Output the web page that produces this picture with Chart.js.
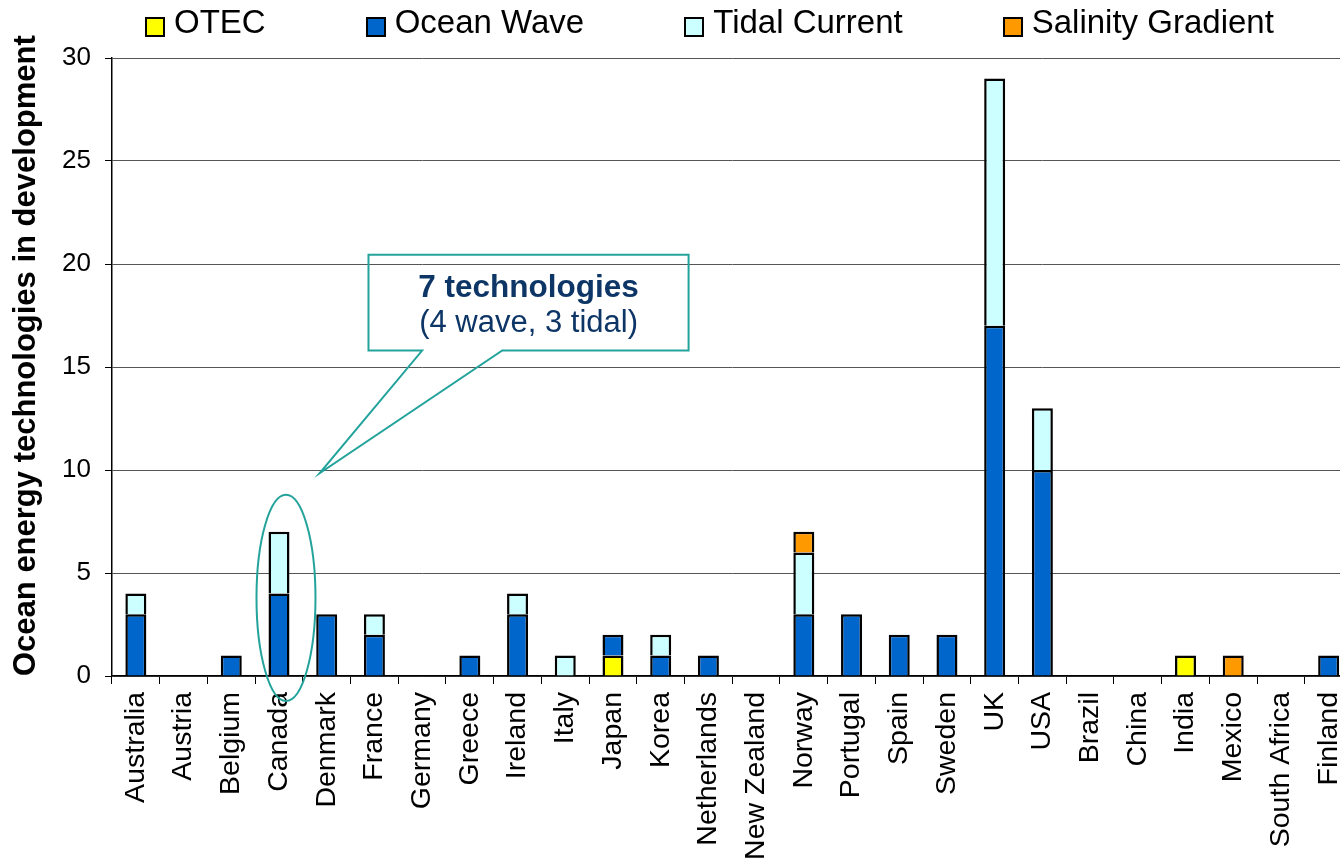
<!DOCTYPE html>
<html lang="en">
<head>
<meta charset="UTF-8">
<title>Ocean energy technologies in development</title>
<script src="https://cdn.jsdelivr.net/npm/chart.js"></script>
<style>
    body {
        margin: 0;
        background: #fff;
        overflow: hidden;
        font-family: "Liberation Sans", Arial, sans-serif;
    }
    .wrap {
        position: relative;
        width: 1371px;
        height: 862px;
    }
    .legend {
        position: absolute;
        top: 3px;
        left: 145px;
        display: flex;
        gap: 100px;
        font-size: 33px;
        color: #000;
        z-index: 2;
    }
    .legend .item {
        display: flex;
        align-items: flex-end;
        line-height: 38px;
    }
    .legend i {
        display: inline-block;
        width: 16px;
        height: 16px;
        border: 2px solid #000;
        margin: 0 9px 4px 0;
    }
</style>
</head>
<body>
<div class="wrap">
    <div class="legend" id="legend"></div>
    <canvas id="chart" width="1371" height="862"></canvas>
</div>

<script>
    // values
    const countries = ["Australia", "Austria", "Belgium", "Canada", "Denmark", "France", "Germany",
        "Greece", "Ireland", "Italy", "Japan", "Korea", "Netherlands", "New Zealand", "Norway",
        "Portugal", "Spain", "Sweden", "UK", "USA", "Brazil", "China", "India", "Mexico",
        "South Africa", "Finland"];
    const otec     = [0, 0, 0, 0, 0, 0, 0, 0, 0, 0, 1, 0, 0, 0, 0, 0, 0, 0, 0, 0, 0, 0, 1, 0, 0, 0];
    const wave     = [3, 0, 1, 4, 3, 2, 0, 1, 3, 0, 1, 1, 1, 0, 3, 3, 2, 2, 17, 10, 0, 0, 0, 0, 0, 1];
    const tidal    = [1, 0, 0, 3, 0, 1, 0, 0, 1, 1, 0, 1, 0, 0, 3, 0, 0, 0, 12, 3, 0, 0, 0, 0, 0, 0];
    const salinity = [0, 0, 0, 0, 0, 0, 0, 0, 0, 0, 0, 0, 0, 0, 1, 0, 0, 0, 0, 0, 0, 0, 0, 1, 0, 0];
    const seriesNames = ["OTEC", "Ocean Wave", "Tidal Current", "Salinity Gradient"];
    const yTicks = [0, 5, 10, 15, 20, 25, 30];

    const colors = ["#ffff00", "#0066cc", "#ccffff", "#ff9900"];
    const teal = "#23a39b";
    const navy = "#0d3667";

    // legend
    const legend = document.getElementById("legend");
    seriesNames.forEach((name, i) => {
        const item = document.createElement("span");
        item.className = "item";
        item.innerHTML = `<i style="background:${colors[i]}"></i>${name}`;
        legend.appendChild(item);
    });

    // callout + ellipse around Canada
    const calloutPlugin = {
        id: "callout",
        afterDatasetsDraw(chart) {
            const { ctx, scales: { x, y } } = chart;
            ctx.save();
            ctx.strokeStyle = teal;
            ctx.lineWidth = 2;

            // ellipse
            const cx = x.getPixelForValue(3) + 7;
            const top = y.getPixelForValue(8.8);
            const bottom = y.getPixelForValue(0) + 25;
            ctx.beginPath();
            ctx.ellipse(cx, (top + bottom) / 2, 29.5, (bottom - top) / 2, 0, 0, Math.PI * 2);
            ctx.stroke();

            // box with pointer
            const L = x.getPixelForValue(4.876), R = x.getPixelForValue(11.585);
            const T = y.getPixelForValue(20.45), B = y.getPixelForValue(15.8);
            const b1 = x.getPixelForValue(6.0), b2 = x.getPixelForValue(7.68);
            const tipX = x.getPixelForValue(3.85), tipY = y.getPixelForValue(9.84);
            ctx.beginPath();
            ctx.moveTo(L, T);
            ctx.lineTo(R, T);
            ctx.lineTo(R, B);
            ctx.lineTo(b2, B);
            ctx.lineTo(tipX, tipY);
            ctx.lineTo(b1, B);
            ctx.lineTo(L, B);
            ctx.closePath();
            ctx.stroke();

            ctx.fillStyle = navy;
            ctx.textAlign = "center";
            ctx.textBaseline = "alphabetic";
            ctx.font = "bold 31.5px 'Liberation Sans', Arial, sans-serif";
            ctx.fillText("7 technologies", (L + R) / 2, T + 42);
            ctx.font = "31px 'Liberation Sans', Arial, sans-serif";
            ctx.fillText("(4 wave, 3 tidal)", (L + R) / 2, T + 77);
            ctx.restore();
        }
    };

    const datasets = [otec, wave, tidal, salinity].map((values, i) => ({
        label: seriesNames[i],
        data: values.map(v => v === 0 ? null : v),
        backgroundColor: colors[i],
        borderColor: "#000",
        borderWidth: 2.5,
        borderSkipped: "bottom",
        barPercentage: 0.44,
        categoryPercentage: 1
    }));

    new Chart(document.getElementById("chart"), {
        type: "bar",
        data: { labels: countries, datasets },
        plugins: [calloutPlugin],
        options: {
            responsive: false,
            animation: false,
            layout: { padding: { top: 58, right: 8, left: 0, bottom: 0 } },
            plugins: {
                legend: { display: false },
                tooltip: { enabled: false }
            },
            scales: {
                x: {
                    stacked: true,
                    afterFit(scale) { scale.height = 186; },
                    grid: {
                        drawOnChartArea: false,
                        offset: true,
                        tickLength: 8,
                        tickColor: "#000",
                        color: "#000"
                    },
                    border: { color: "#000", width: 1.5 },
                    ticks: {
                        autoSkip: false,
                        minRotation: 90,
                        maxRotation: 90,
                        padding: 8,
                        color: "#000",
                        font: { family: "'Liberation Sans', Arial, sans-serif", size: 28.5 }
                    }
                },
                y: {
                    stacked: true,
                    min: 0,
                    max: 30,
                    afterFit(scale) { scale.width = 112; },
                    afterBuildTicks(scale) { scale.ticks = yTicks.map(v => ({ value: v })); },
                    grid: {
                        color: "#555",
                        tickColor: "#000",
                        tickLength: 7
                    },
                    border: { color: "#000", width: 1.5 },
                    ticks: {
                        padding: 14,
                        color: "#000",
                        font: { family: "'Liberation Sans', Arial, sans-serif", size: 26 }
                    },
                    title: {
                        display: true,
                        text: "Ocean energy technologies in development",
                        align: "start",
                        color: "#000",
                        padding: { top: 8, bottom: 0 },
                        font: { family: "'Liberation Sans', Arial, sans-serif", size: 31, weight: "bold" }
                    }
                }
            }
        }
    });
</script>
</body>
</html>
